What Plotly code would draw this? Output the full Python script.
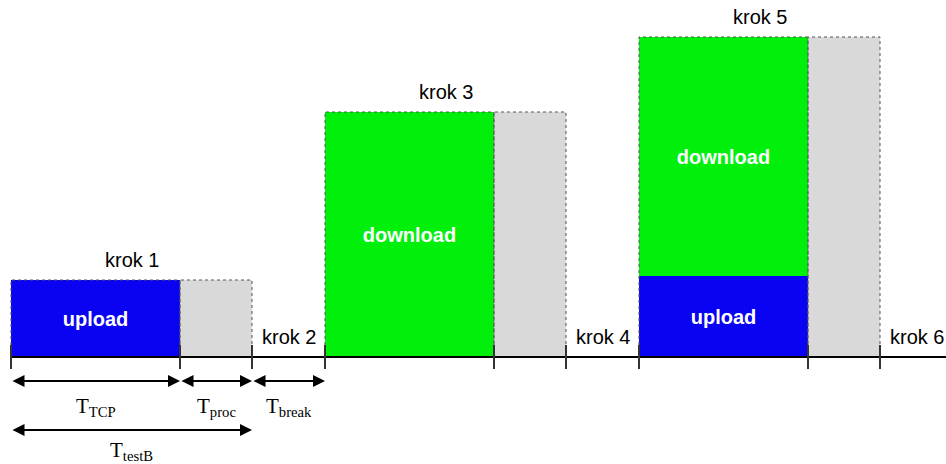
import plotly.graph_objects as go

# ---- data ----
steps = ["krok 1", "krok 2", "krok 3", "krok 4", "krok 5", "krok 6"]
# phase durations (time units)
T_TCP = 169
T_proc = 72
T_break = 73
# step kind: 'bar' steps consist of TCP + proc, 'break' steps of T_break
step_kind = ["bar", "break", "bar", "break", "bar", "break"]
upload_h = [77, 0, 0, 0, 81, 0]
download_h = [0, 0, 245, 0, 239, 0]
arrow_labels = ["T<sub>TCP</sub>", "T<sub>proc</sub>", "T<sub>break</sub>"]
total_label = "T<sub>testB</sub>"

BLUE = "#0a02f2"
GREEN = "#00f00c"
GRAY = "#d9d9d9"
EDGE = "#555555"

fig = go.Figure()

t = 0
boundaries = [0]
bars = []  # (x0, x1, base, height, color, text)
labels = []  # (x, y, text)
outline_x, outline_y = [], []

def outline(x0, x1, y0, y1):
    outline_x.extend([x0, x0, x1, x1, None])
    outline_y.extend([y0, y1, y1, y0, None])

for name, kind, uh, dh in zip(steps, step_kind, upload_h, download_h):
    if kind == "bar":
        x0, x1, x2 = t, t + T_TCP, t + T_TCP + T_proc
        total = uh + dh
        if uh:
            bars.append((x0, x1, 0, uh, BLUE, "upload"))
        if dh:
            bars.append((x0, x1, uh, dh, GREEN, "download"))
        bars.append((x1, x2, 0, total, GRAY, None))
        outline(x0, x1, 0, total)
        outline(x1, x2, 0, total)
        labels.append(((x0 + x2) / 2, total + 20, name))
        boundaries += [x1, x2]
        t = x2
    else:
        x0, x1 = t, t + T_break
        labels.append(((x0 + x1) / 2, 20, name))
        t = x1
        if name != steps[-1]:
            boundaries.append(x1)

for x0, x1, base, h, color, text in bars:
    kw = {}
    if text:
        kw = dict(text=[text], textposition="inside", insidetextanchor="middle",
                  textfont=dict(family="Liberation Sans", size=20, color="white", weight="bold"),
                  textangle=0)
    fig.add_trace(go.Bar(
        x=[(x0 + x1) / 2], y=[h], base=[base], width=[x1 - x0],
        marker=dict(color=color, line=dict(width=0)),
        hoverinfo="skip", showlegend=False, **kw,
    ))

# dotted outlines
fig.add_trace(go.Scatter(x=outline_x, y=outline_y, mode="lines",
                         line=dict(color=EDGE, width=1, dash="dot"),
                         hoverinfo="skip", showlegend=False))

# baseline
fig.add_trace(go.Scatter(x=[0, 940], y=[0, 0], mode="lines",
                         line=dict(color="black", width=2),
                         hoverinfo="skip", showlegend=False))
# ticks
tx, ty = [], []
for b in boundaries:
    tx += [b, b, None]
    ty += [-12, 12, None]
fig.add_trace(go.Scatter(x=tx, y=ty, mode="lines",
                         line=dict(color="#333333", width=2),
                         hoverinfo="skip", showlegend=False))

# step labels
for x, y, txt in labels:
    fig.add_annotation(x=x, y=y, text=txt, showarrow=False,
                       font=dict(family="Liberation Sans", size=20, color="black"))

# arrows
arrow_segments = [(0, T_TCP), (T_TCP, T_TCP + T_proc), (T_TCP + T_proc, T_TCP + T_proc + T_break)]
for (a, b), lab in zip(arrow_segments, arrow_labels):
    fig.add_annotation(x=b, y=-24, ax=a, ay=-24, axref="x", ayref="y",
                       xref="x", yref="y", text="", showarrow=True,
                       arrowhead=2, arrowside="end+start", arrowsize=1.2,
                       arrowwidth=2, arrowcolor="black")
    fig.add_annotation(x=(a + b) / 2, y=-50, text=lab, showarrow=False,
                       font=dict(family="Liberation Serif", size=21, color="black"))

fig.add_annotation(x=T_TCP + T_proc, y=-73, ax=0, ay=-73, axref="x", ayref="y",
                   xref="x", yref="y", text="", showarrow=True,
                   arrowhead=2, arrowside="end+start", arrowsize=1.2,
                   arrowwidth=2, arrowcolor="black")
fig.add_annotation(x=(T_TCP + T_proc) / 2, y=-94, text=total_label, showarrow=False,
                   font=dict(family="Liberation Serif", size=21, color="black"))

fig.update_layout(
    width=946, height=464,
    margin=dict(l=0, r=0, t=0, b=0),
    paper_bgcolor="white", plot_bgcolor="white",
    barmode="overlay", bargap=0,
    xaxis=dict(range=[-11, 935], visible=False, fixedrange=True),
    yaxis=dict(range=[-107, 357], visible=False, fixedrange=True),
)

fig.write_html("out.html", config={"displayModeBar": False},
               post_script="document.body.style.margin='0px';document.body.style.overflow='hidden';")
